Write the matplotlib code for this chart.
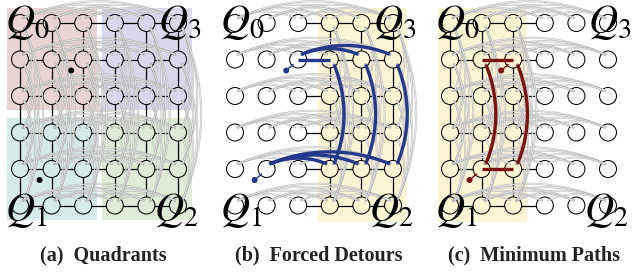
import matplotlib
matplotlib.use("Agg")
import matplotlib.pyplot as plt
import numpy as np
from matplotlib.patches import Circle, Rectangle

# panels and their captions
captions = ["(a)  Quadrants", "(b)  Forced Detours", "(c)  Minimum Paths"]
panel_x0 = [20, 235, 450]
n_rows, n_cols = 6, 6
quad_labels = ["Q_0", "Q_3", "Q_1", "Q_2"]

# quadrant shading in (a): (rows, cols, colour)
quadrants = [((0, 2), (0, 2), "#ead3d3"), ((0, 2), (3, 5), "#d9d7ec"),
             ((3, 5), (0, 2), "#d5ebea"), ((3, 5), (3, 5), "#e0ebd6")]
yellow = "#fdf4d6"
# column range that keeps its mesh in (b) and (c)
active_cols = [(0, 5), (3, 5), (0, 2)]

sources = [(1, 2), (4, 1)]
detours = [((1, 2), (1, 3)), ((1, 2), (1, 4)), ((1, 2), (1, 5)),
           ((1, 3), (4, 3)), ((1, 4), (4, 4)), ((1, 5), (4, 5)),
           ((4, 1), (4, 3)), ((4, 1), (4, 4)), ((4, 1), (4, 5))]
min_paths = [((1, 1), (1, 2)), ((4, 1), (4, 2)),
             ((1, 1), (4, 1)), ((1, 2), (4, 2))]

DX, DY, Y0, R = 31.6, 36.5, 23, 8.5

fig = plt.figure(figsize=(6.34, 2.75), dpi=100)
ax = fig.add_axes([0, 0, 1, 1])
ax.set_xlim(0, 634)
ax.set_ylim(275, 0)
ax.axis("off")


def pos(p, r, c):
    return panel_x0[p] + c * DX, Y0 + r * DY


def curve(a, b, bulge, horiz, n=40):
    # quadratic bezier between two points, bent up (rows) or right (columns)
    a, b = np.array(a, float), np.array(b, float)
    m = (a + b) / 2
    d = np.abs(b - a).max()
    ctrl = m + (np.array([0, -bulge * d]) if horiz else np.array([bulge * d, 0]))
    t = np.linspace(0, 1, n)[:, None]
    pts = (1 - t) ** 2 * a + 2 * (1 - t) * t * ctrl + t ** 2 * b
    return pts[:, 0], pts[:, 1]


def link(p, u, v, bulge=0.22):
    (r1, c1), (r2, c2) = u, v
    x1, y1 = pos(p, r1, c1)
    x2, y2 = pos(p, r2, c2)
    if r1 == r2:
        if abs(c2 - c1) == 1:
            return [x1, x2], [y1, y2]
        return curve((x1 + 3, y1 - R * 0.6), (x2 - 3, y2 - R * 0.6), bulge, True)
    if abs(r2 - r1) == 1:
        return [x1, x2], [y1, y2]
    return curve((x1 + R * 0.5, y1 + 5), (x2 + R * 0.5, y2 - 5), bulge, False)


def express(xs, ys):
    ax.plot(xs, ys, color="#a8a8a8", lw=1.4, alpha=0.7, zorder=3)
    ax.plot(xs, ys, color="white", lw=0.5, alpha=0.8, zorder=3)


for p in range(3):
    lo, hi = active_cols[p]
    # background regions
    if p == 0:
        for (ra, rb), (ca, cb), col in quadrants:
            xa, ya = pos(p, ra, ca)
            xb, yb = pos(p, rb, cb)
            ax.add_patch(Rectangle((xa - 13, ya - 15), xb - xa + 27, yb - ya + 29,
                                   fc=col, ec="none", zorder=0))
    else:
        xa, ya = pos(p, 0, lo)
        xb, yb = pos(p, n_rows - 1, hi)
        ax.add_patch(Rectangle((xa - 12, ya - 15), xb - xa + 26, yb - ya + 31,
                               fc=yellow, ec="none", zorder=0))

    # mesh edges
    for r in range(n_rows):
        for c in range(n_cols - 1):
            if (lo <= c < hi) or (p > 0 and c == 2):
                xs, ys = link(p, (r, c), (r, c + 1))
                ax.plot(xs, ys, color="black", lw=0.9, zorder=1)
    for c in range(lo, hi + 1):
        for r in range(n_rows - 1):
            xs, ys = link(p, (r, c), (r + 1, c))
            ax.plot(xs, ys, color="black", lw=0.9, zorder=1)

    # nodes
    for r in range(n_rows):
        for c in range(n_cols):
            if p == 0:
                fc = [q[2] for q in quadrants
                      if q[0][0] <= r <= q[0][1] and q[1][0] <= c <= q[1][1]][0]
            else:
                fc = yellow if lo <= c <= hi else "white"
            x, y = pos(p, r, c)
            ax.add_patch(Circle((x, y), R, fc=fc, ec="black", lw=0.75, zorder=2))

    # long range links drawn as light double lines
    for r in range(n_rows):
        for c1 in range(n_cols):
            for c2 in range(c1 + 2, n_cols):
                express(*link(p, (r, c1), (r, c2)))
    for c in range(lo, hi + 1):
        for r1 in range(n_rows):
            for r2 in range(r1 + 2, n_rows):
                express(*link(p, (r1, c), (r2, c)))

    # highlighted routes
    colour = ["black", "#22398c", "#7a1212"][p]
    routes = [[], detours, min_paths][p]
    for u, v in routes:
        xs, ys = link(p, u, v, bulge=0.2)
        ax.plot(xs, ys, color=colour, lw=2.4, solid_capstyle="butt", zorder=5)
    for r, c in sources:
        x, y = pos(p, r, c)
        sx, sy = x - 12, y + 11
        if p > 0:
            ax.plot([sx, x - R * 0.6], [sy, y + R * 0.6], color=colour, lw=1.0, zorder=5)
        ax.add_patch(Circle((sx, sy), 3.0, fc=colour, ec="none", zorder=6))

    # quadrant labels
    x0, _ = pos(p, 0, 0)
    x5, _ = pos(p, 0, n_cols - 1)
    for lab, (lx, ly) in zip(quad_labels, [(x0 - 15, 33), (x5 - 20, 33),
                                          (x0 - 15, 221), (x5 - 24, 221)]):
        ax.text(lx, ly, "$" + lab + "$", fontsize=29, ha="left", va="baseline",
                math_fontfamily="stix", zorder=7)

    ax.text(x0 + 2.65 * DX, 255, captions[p], fontsize=14.5, fontweight="bold",
            family="Liberation Serif", ha="center", va="center", color="#222222")

fig.savefig("out.png", dpi=100)
